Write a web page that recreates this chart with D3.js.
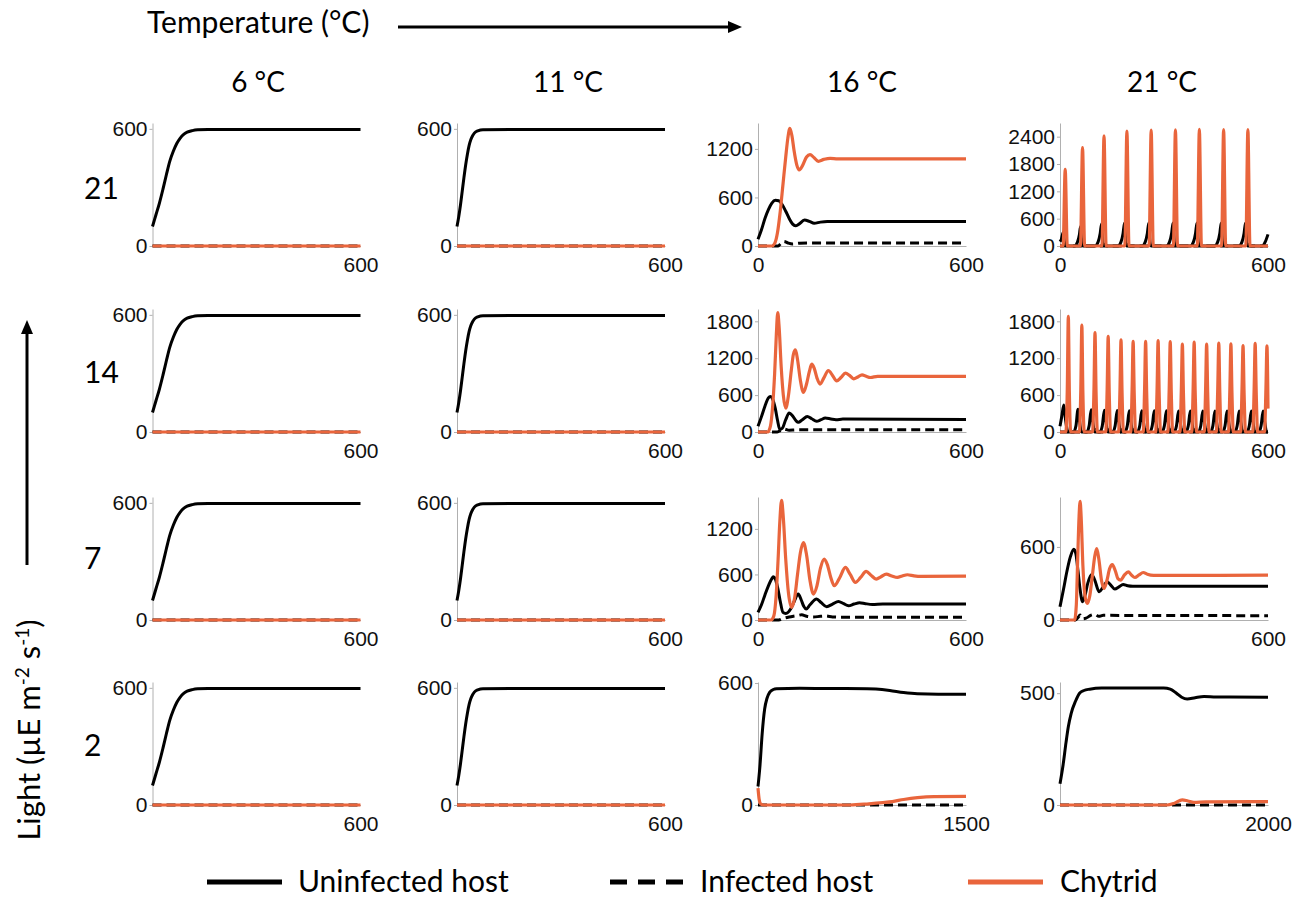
<!DOCTYPE html>
<html><head><meta charset="utf-8">
<script src="https://cdn.jsdelivr.net/npm/d3@7"></script>
<style>body{margin:0;background:#fff}</style>
</head><body><svg id="c" width="1299" height="897"></svg>
<script>
// ---------- labels ----------
const temperatures = ["6 °C", "11 °C", "16 °C", "21 °C"];
const lightLevels = ["21", "14", "7", "2"];
const legendLabels = ["Uninfected host", "Infected host", "Chytrid"];

// ---------- series (time, density) ----------
const uninf6 = [[0,100],[10,160],[20,220],[30,290],[40,365],[50,435],[60,485],[70,525],[80,553],[90,572],[100,583],[115,591],[130,595],[160,597],[600,597]];
const uninf11 = [[0,100],[5,150],[10,210],[15,280],[20,350],[25,415],[30,470],[35,515],[40,545],[45,565],[50,578],[60,590],[75,596],[600,597]];
const zero600 = [[0,0],[600,0]];

const uninf16_21 = [[0,83],[10,200],[20,340],[30,450],[40,530],[50,565],[60,560],[70,510],[80,430],[90,340],[100,270],[108,250],[118,270],[134,320],[148,305],[162,282],[180,295],[200,302],[250,302],[600,302]];
const inf16_21 = [[0,0],[58,0],[66,30],[75,55],[85,40],[100,25],[120,35],[150,38],[600,38]];
const chy16_21 = [[0,0],[40,0],[48,30],[56,160],[64,420],[72,760],[80,1100],[86,1330],[92,1455],[98,1360],[104,1180],[112,1000],[119,940],[128,990],[140,1100],[150,1130],[162,1090],[174,1047],[190,1070],[208,1084],[230,1076],[600,1076]];

const uninf21_21 = [[0,95],[4,150],[9,295],[13,80],[16,0],[42,0],[50,80],[56,250],[59,420],[63,80],[66,0],[101,0],[110,90],[116,280],[120,490],[124,80],[127,0],[167,0],[176,90],[182,280],[186,505],[190,80],[193,0],[237,0],[246,90],[252,280],[256,505],[260,80],[263,0],[307,0],[316,90],[322,280],[326,505],[330,80],[333,0],[376,0],[385,90],[391,280],[395,505],[399,80],[402,0],[446,0],[455,90],[461,280],[465,505],[469,80],[472,0],[516,0],[525,90],[531,280],[535,505],[539,80],[542,0],[584,0],[592,90],[600,255]];
const inf21_21 = [[0,0],[12,0],[17,35],[24,0],[62,0],[67,35],[74,0],[124,0],[129,35],[136,0],[190,0],[195,35],[202,0],[260,0],[265,35],[272,0],[330,0],[335,35],[342,0],[399,0],[404,35],[411,0],[469,0],[474,35],[481,0],[539,0],[544,35],[551,0],[600,0]];
const chy21_21 = [[0,0],[9,0],[15,1680],[21,0],[59,0],[65,2160],[71,0],[121,0],[127,2420],[133,0],[187,0],[193,2520],[199,0],[257,0],[263,2545],[269,0],[327,0],[333,2550],[339,0],[396,0],[402,2560],[408,0],[466,0],[472,2555],[478,0],[536,0],[542,2555],[548,0],[600,0]];

const uninf16_14 = [[0,92],[10,250],[20,420],[30,555],[36,578],[42,540],[50,380],[56,200],[63,40],[70,60],[80,200],[90,308],[100,260],[110,180],[116,157],[128,200],[142,254],[155,215],[169,173],[182,200],[194,227],[210,212],[225,200],[245,210],[600,205]];
const inf16_14 = [[0,0],[55,0],[63,20],[75,49],[90,30],[110,35],[600,35]];
const chy16_14 = [[0,0],[28,0],[36,100],[42,400],[48,950],[53,1600],[57,1940],[61,1700],[67,1050],[73,600],[80,389],[88,600],[96,1000],[102,1260],[108,1335],[114,1180],[122,850],[131,643],[140,780],[148,980],[155,1103],[162,1040],[170,880],[179,778],[190,880],[203,1000],[215,920],[227,832],[240,890],[252,957],[264,920],[276,865],[288,895],[300,930],[312,905],[324,886],[345,905],[600,903]];

const uninf21_14 = [[0,92],[5,250],[11,440],[16,200],[21,30],[24,0],[39,0],[46,100],[52,370],[57,150],[62,0],[77,0],[84,100],[90,360],[95,150],[100,0],[115,0],[122,100],[128,355],[133,150],[138,0],[152,0],[159,100],[165,350],[170,150],[175,0],[187,0],[194,100],[200,345],[205,150],[210,0],[223,0],[230,100],[236,345],[241,150],[246,0],[259,0],[266,100],[272,345],[277,150],[282,0],[294,0],[301,100],[307,345],[312,150],[317,0],[329,0],[336,100],[342,340],[347,150],[352,0],[363,0],[370,100],[376,340],[381,150],[386,0],[399,0],[406,100],[412,340],[417,150],[422,0],[434,0],[441,100],[447,340],[452,150],[457,0],[469,0],[476,100],[482,340],[487,150],[492,0],[504,0],[511,100],[517,340],[522,150],[527,0],[539,0],[546,100],[552,340],[557,150],[562,0],[573,0],[580,100],[586,340],[591,150],[596,0],[600,0]];
const inf21_14 = [[0,0],[22,0],[27,45],[33,0],[61,0],[66,40],[72,0],[99,0],[104,40],[110,0],[137,0],[142,40],[148,0],[174,0],[179,40],[185,0],[209,0],[214,40],[220,0],[245,0],[250,40],[256,0],[281,0],[286,40],[292,0],[316,0],[321,40],[327,0],[351,0],[356,40],[362,0],[385,0],[390,40],[396,0],[421,0],[426,40],[432,0],[456,0],[461,40],[467,0],[491,0],[496,40],[502,0],[526,0],[531,40],[537,0],[561,0],[566,40],[572,0],[600,0]];
const chy21_14 = [[0,0],[17,0],[21,700],[24,1880],[27,650],[31,0],[56,0],[60,700],[63,1740],[66,650],[70,0],[94,0],[98,700],[101,1615],[104,650],[108,0],[132,0],[136,700],[139,1555],[142,650],[146,0],[169,0],[173,700],[176,1500],[179,650],[183,0],[204,0],[208,700],[211,1475],[214,650],[218,0],[240,0],[244,700],[247,1475],[250,650],[254,0],[276,0],[280,700],[283,1485],[286,650],[290,0],[311,0],[315,700],[318,1470],[321,650],[325,0],[346,0],[350,700],[353,1430],[356,650],[360,0],[380,0],[384,700],[387,1460],[390,650],[394,0],[416,0],[420,700],[423,1430],[426,650],[430,0],[451,0],[455,700],[458,1445],[461,650],[465,0],[486,0],[490,700],[493,1432],[496,650],[500,0],[521,0],[525,700],[528,1405],[531,650],[535,0],[556,0],[560,700],[563,1440],[566,650],[570,0],[590,0],[594,700],[597,1400],[600,380]];

const uninf16_7 = [[0,100],[10,200],[20,330],[30,450],[40,545],[44,569],[50,540],[57,420],[64,250],[72,100],[80,85],[95,150],[105,250],[116,342],[125,260],[132,180],[139,145],[150,200],[169,276],[182,230],[198,175],[215,210],[232,245],[247,215],[261,188],[277,210],[293,228],[310,215],[330,205],[360,212],[600,210]];
const inf16_7 = [[0,0],[60,0],[72,20],[90,40],[110,55],[126,68],[140,50],[160,40],[180,48],[196,52],[215,40],[240,37],[600,35]];
const chy16_7 = [[0,0],[38,0],[46,60],[52,300],[58,800],[63,1300],[68,1577],[73,1350],[80,800],[88,350],[97,166],[106,300],[114,600],[122,880],[131,1020],[140,860],[150,520],[160,342],[170,450],[180,680],[191,802],[200,730],[210,560],[220,451],[236,560],[252,692],[266,600],[281,495],[296,560],[312,640],[326,590],[341,539],[355,570],[370,604],[386,580],[402,561],[416,580],[431,596],[450,582],[470,575],[600,578]];

const uninf21_7 = [[0,109],[10,250],[20,400],[30,520],[40,581],[46,540],[52,400],[58,250],[65,150],[72,200],[80,300],[91,374],[100,330],[113,232],[124,270],[136,314],[147,285],[158,254],[170,272],[182,292],[195,282],[210,278],[600,278]];
const inf21_7 = [[0,0],[45,0],[52,20],[58,41],[66,10],[75,15],[90,40],[100,46],[112,30],[125,38],[600,35]];
const chy21_7 = [[0,0],[42,0],[47,120],[51,500],[55,850],[58,974],[61,850],[66,450],[72,200],[79,136],[86,200],[94,380],[100,520],[106,586],[112,500],[120,320],[127,259],[135,320],[143,420],[151,455],[160,400],[167,340],[175,327],[186,370],[197,395],[206,370],[216,349],[228,370],[240,390],[252,375],[270,366],[600,368]];

const uninf16_2 = [[0,91],[15,200],[30,350],[48,472],[65,525],[85,555],[110,568],[133,572],[300,574],[500,573],[786,572],[850,570],[950,563],[1050,553],[1149,547],[1300,545],[1500,545]];
const inf16_2 = [[0,0],[1500,0]];
const chy16_2 = [[0,83],[8,30],[20,5],[40,0],[665,0],[800,6],[900,12],[968,17],[1050,27],[1150,36],[1270,41],[1500,42]];

const uninf21_2 = [[0,95],[30,180],[58,280],[80,350],[107,409],[150,465],[188,500],[230,512],[285,518],[400,523],[997,523],[1060,518],[1120,500],[1170,482],[1223,474],[1300,480],[1385,485],[1500,483],[2000,482]];
const inf21_2 = [[0,0],[2000,0]];
const chy21_2 = [[0,0],[1029,0],[1100,8],[1175,23],[1230,18],[1288,12],[1400,14],[2000,15]];

// ---------- axis extents and tick labels per panel ----------
const panels = [
  {u:uninf6, i:zero600, c:zero600, xMax:600, yMax:630, yTicks:[0,600], xTicks:[600]},
  {u:uninf11, i:zero600, c:zero600, xMax:600, yMax:630, yTicks:[0,600], xTicks:[600]},
  {u:uninf16_21, i:inf16_21, c:chy16_21, xMax:600, yMax:1520, yTicks:[0,600,1200], xTicks:[0,600]},
  {u:uninf21_21, i:inf21_21, c:chy21_21, xMax:600, yMax:2700, yTicks:[0,600,1200,1800,2400], xTicks:[0,600]},
  {u:uninf6, i:zero600, c:zero600, xMax:600, yMax:630, yTicks:[0,600], xTicks:[600]},
  {u:uninf11, i:zero600, c:zero600, xMax:600, yMax:630, yTicks:[0,600], xTicks:[600]},
  {u:uninf16_14, i:inf16_14, c:chy16_14, xMax:600, yMax:2000, yTicks:[0,600,1200,1800], xTicks:[0,600]},
  {u:uninf21_14, i:inf21_14, c:chy21_14, xMax:600, yMax:2000, yTicks:[0,600,1200,1800], xTicks:[0,600]},
  {u:uninf6, i:zero600, c:zero600, xMax:600, yMax:630, yTicks:[0,600], xTicks:[600]},
  {u:uninf11, i:zero600, c:zero600, xMax:600, yMax:630, yTicks:[0,600], xTicks:[600]},
  {u:uninf16_7, i:inf16_7, c:chy16_7, xMax:600, yMax:1620, yTicks:[0,600,1200], xTicks:[0,600]},
  {u:uninf21_7, i:inf21_7, c:chy21_7, xMax:600, yMax:1010, yTicks:[0,600], xTicks:[600]},
  {u:uninf6, i:zero600, c:zero600, xMax:600, yMax:630, yTicks:[0,600], xTicks:[600]},
  {u:uninf11, i:zero600, c:zero600, xMax:600, yMax:630, yTicks:[0,600], xTicks:[600]},
  {u:uninf16_2, i:inf16_2, c:chy16_2, xMax:1500, yMax:605, yTicks:[0,600], xTicks:[1500]},
  {u:uninf21_2, i:inf21_2, c:chy21_2, xMax:2000, yMax:550, yTicks:[0,500], xTicks:[2000]}
];

// ---------- layout ----------
const ORANGE = "#e9653c";
const colX = [152.5, 457, 758, 1060];
const rowBottom = [246, 432, 620, 805];
const PW = 208, PH = 123;
const tickFont = "Liberation Sans";
const labelFont = "Lato";

const svg = d3.select("#c");

panels.forEach((p, k) => {
  const r = Math.floor(k / 4), c = k % 4;
  const x0 = colX[c], yb = rowBottom[r];
  const x = d3.scaleLinear().domain([0, p.xMax]).range([x0, x0 + PW]);
  const y = d3.scaleLinear().domain([0, p.yMax]).range([yb, yb - PH]);
  const g = svg.append("g");

  const ya = g.append("g").attr("transform", `translate(${x0},0)`)
    .call(d3.axisLeft(y).tickValues(p.yTicks).tickSize(3).tickSizeOuter(0).tickPadding(2).tickFormat(d3.format("d")));
  const xa = g.append("g").attr("transform", `translate(0,${yb})`)
    .call(d3.axisBottom(x).tickValues(p.xTicks).tickSize(0).tickSizeOuter(0).tickPadding(11).tickFormat(d3.format("d")));
  [ya, xa].forEach(a => {
    a.attr("font-family", tickFont).attr("font-size", 21);
    a.select(".domain").attr("stroke", "#b0b0b0").attr("stroke-width", 1);
    a.selectAll(".tick line").attr("stroke", "#b0b0b0");
    a.selectAll("text").style("font-family", tickFont).style("font-size", "21px").attr("fill", "#111");
  });

  const line = d3.line().x(d => x(d[0])).y(d => y(d[1])).curve(d3.curveMonotoneX);
  g.append("path").attr("d", line(p.u)).attr("fill", "none").attr("stroke", "#000").attr("stroke-width", 3);
  g.append("path").attr("d", line(p.i)).attr("fill", "none").attr("stroke", "#000").attr("stroke-width", 3).attr("stroke-dasharray", "9,5");
  g.append("path").attr("d", line(p.c)).attr("fill", "none").attr("stroke", ORANGE).attr("stroke-width", 3.2);
});

// column headers
const headerX = [258, 568, 862, 1162];
temperatures.forEach((t, i) => {
  svg.append("text").attr("x", headerX[i]).attr("y", 92).attr("text-anchor", "middle")
    .style("font-family", labelFont).style("font-size", "28px").text(t);
});
// row labels
const rowLabelY = [199, 383, 569, 756];
lightLevels.forEach((t, i) => {
  svg.append("text").attr("x", 84).attr("y", rowLabelY[i]).attr("text-anchor", "start")
    .style("font-family", labelFont).style("font-size", "30px").text(t);
});

// temperature title + arrow
svg.append("text").attr("x", 147).attr("y", 33).style("font-family", labelFont).style("font-size", "30px").text("Temperature (°C)");
svg.append("line").attr("x1", 398).attr("y1", 27).attr("x2", 730).attr("y2", 27).attr("stroke", "#000").attr("stroke-width", 3);
svg.append("path").attr("d", "M742,27 L728,21 L728,33 Z").attr("fill", "#000");

// light title + arrow
const lt = svg.append("text").attr("transform", "translate(40,730) rotate(-90)").attr("text-anchor", "middle")
  .style("font-family", labelFont).style("font-size", "31px");
lt.append("tspan").text("Light (µE m");
lt.append("tspan").attr("baseline-shift", "super").style("font-size", "19px").text("-2");
lt.append("tspan").text(" s");
lt.append("tspan").attr("baseline-shift", "super").style("font-size", "19px").text("-1");
lt.append("tspan").text(")");
svg.append("line").attr("x1", 27).attr("y1", 565).attr("x2", 27).attr("y2", 332).attr("stroke", "#000").attr("stroke-width", 3);
svg.append("path").attr("d", "M27,320 L21,334 L33,334 Z").attr("fill", "#000");

// legend
const legY = 882;
const legItems = [
  {x1: 207, x2: 282, tx: 298, color: "#000", dash: null},
  {x1: 610, x2: 684, tx: 700, color: "#000", dash: "17,11"},
  {x1: 968, x2: 1043, tx: 1060, color: ORANGE, dash: null}
];
legItems.forEach((it, i) => {
  const l = svg.append("line").attr("x1", it.x1).attr("x2", it.x2).attr("y1", legY).attr("y2", legY)
    .attr("stroke", it.color).attr("stroke-width", 5);
  if (it.dash) l.attr("stroke-dasharray", it.dash);
  svg.append("text").attr("x", it.tx).attr("y", legY + 10).style("font-family", labelFont).style("font-size", "30px").text(legendLabels[i]);
});
</script></body></html>
